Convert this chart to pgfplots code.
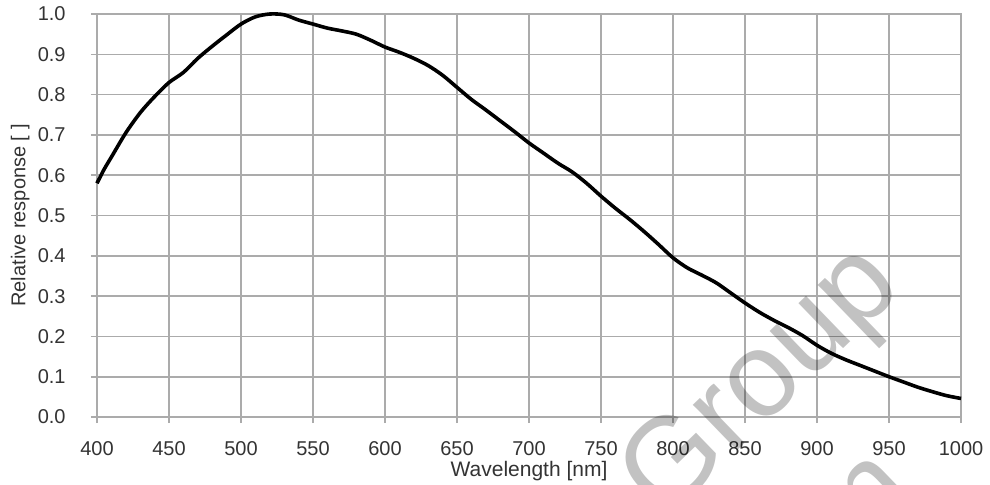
\documentclass[border=0pt]{standalone}
\usepackage{fontspec}
\setmainfont{Liberation Sans}
\usepackage{pgfplots}
\pgfplotsset{compat=1.18}
\definecolor{gridgray}{HTML}{ABABAB}
\definecolor{txt}{HTML}{333333}
\begin{document}
\begin{tikzpicture}
\begin{axis}[name=ax, scale only axis, width=432pt, height=201.5pt,
  xmin=400, xmax=1000, ymin=0, ymax=1,
  xtick={400,450,500,550,600,650,700,750,800,850,900,950,1000},
  ytick={0,0.1,0.2,0.3,0.4,0.5,0.6,0.7,0.8,0.9,1.0},
  grid=major, major grid style={gridgray, line width=0.8pt},
  axis line style={gridgray, line width=0.8pt},
  tick style={gridgray, line width=0.8pt},
  tick align=outside, major tick length=3pt,
  xtick pos=bottom, ytick pos=left,
  /pgf/number format/assume math mode=true,
  yticklabel style={/pgf/number format/fixed, /pgf/number format/fixed zerofill, /pgf/number format/precision=1},
  xticklabel style={/pgf/number format/set thousands separator={}},
  ticklabel style={font=\fontsize{10}{12}\selectfont, text=txt},
  xticklabel style={anchor=center, yshift=-13pt},
  yticklabel style={anchor=east, inner sep=0pt, xshift=-12.5pt},
  xlabel={Wavelength [nm]}, ylabel={Relative response [ ]},
  xlabel style={font=\fontsize{10.5}{12}\selectfont, text=txt, at={(axis description cs:0.5,-0.1335)}, anchor=center},
  ylabel style={font=\fontsize{10}{12}\selectfont, text=txt, at={(axis description cs:-0.089,0.5)}, anchor=center},
  clip=false]
\addplot[black, line width=1.8pt, smooth] coordinates {
(400,0.580) (405,0.615) (410,0.645) (420,0.705) (430,0.755) (440,0.795)
(450,0.830) (460,0.855) (470,0.890) (480,0.920) (490,0.948) (500,0.975)
(510,0.993) (520,1.000) (530,0.998) (540,0.985) (550,0.975) (560,0.965)
(570,0.958) (580,0.950) (590,0.935) (600,0.918) (610,0.905) (620,0.890)
(630,0.872) (640,0.848) (650,0.818) (660,0.788) (670,0.762) (680,0.735)
(690,0.708) (700,0.680) (710,0.655) (720,0.630) (730,0.608) (740,0.580)
(750,0.548) (760,0.518) (770,0.490) (780,0.460) (790,0.428) (800,0.395)
(810,0.370) (820,0.352) (830,0.333) (840,0.308) (850,0.283) (860,0.260)
(870,0.240) (880,0.222) (890,0.202) (900,0.178) (910,0.158) (920,0.142)
(930,0.128) (940,0.114) (950,0.100) (960,0.087) (970,0.074) (980,0.063)
(990,0.053) (1000,0.046)
};
\node[rotate=44, text=black, opacity=0.24, font=\fontsize{60}{66}\selectfont] at (axis cs:863,0.08) {Group};
\node[rotate=44, text=black, opacity=0.24, font=\fontsize{60}{66}\selectfont] at (axis cs:930,-0.225) {m};
\end{axis}
\pgfresetboundingbox
\path ([shift={(-48.5pt,-33.5pt)}]ax.south west) rectangle ([shift={(14.5pt,7pt)}]ax.north east);
\end{tikzpicture}
\end{document}
